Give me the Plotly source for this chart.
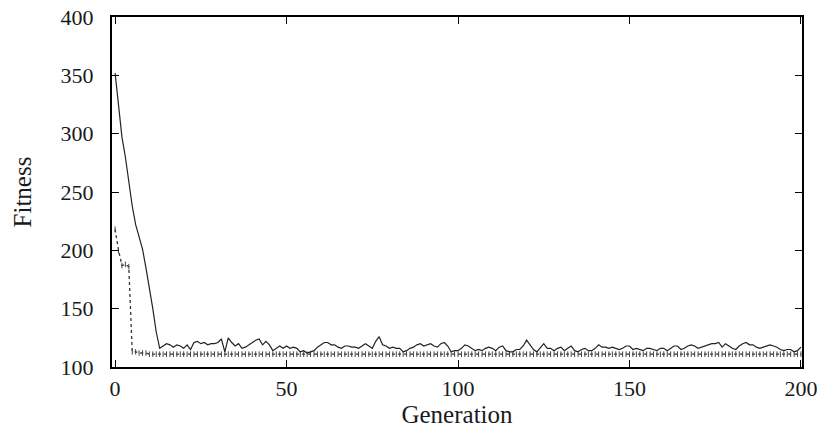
import plotly.graph_objects as go

# Average fitness per generation (solid line)
avg_fitness = [
    352, 322, 297, 280, 258, 238, 222, 212, 201, 185, 168, 150, 130, 116,
    118, 120, 119, 117, 119, 118, 116, 119, 115, 121, 122, 120, 121, 119, 120, 120, 121, 124, 113, 125, 121, 118, 120, 116,
    117, 119, 121, 123, 124, 119, 122, 119, 114, 116,
    118, 116, 118, 116, 117, 116, 113, 114, 112, 113,
    114, 117, 119, 121, 121, 119, 119, 117, 116, 118,
    118, 117, 117, 116, 118, 120, 118, 116, 122, 126,
    119, 118, 116, 117, 116, 116, 113, 114, 116, 117,
    119, 120, 118, 119, 120, 118, 117, 120, 121, 118,
    113, 114, 114, 116, 119, 118, 116, 114, 115, 114,
    116, 117, 116, 114, 117, 118, 114, 113, 113,
    115, 115, 118, 123, 119, 115, 113, 117, 120, 116,
    116, 114, 116, 117, 114, 116, 118, 114, 113, 115,
    116, 114, 114, 116, 119, 117, 117, 116, 117, 116,
    115, 116, 118, 118, 115, 116, 115, 114, 116,
    116, 115, 114, 116, 116, 114, 116, 118, 118, 115,
    116, 118, 119, 118, 116, 117, 118, 119, 120, 120,
    121, 117, 120, 118, 116, 115, 118, 120, 121, 119,
    119, 117, 116, 117, 118, 119, 118, 117, 115, 114,
    115, 115, 113, 114, 117,
]

# Best fitness per generation (dotted line)
best_fitness = [
    218, 200, 187, 188, 186, 113, 113, 112, 112, 112,
    111, 111, 111, 111, 111, 111, 111, 111, 111, 111,
    111, 111, 111, 111, 111, 111, 111, 111, 111, 111,
    111, 111, 111, 111, 111, 111, 111, 111, 111, 111,
    111, 111, 111, 111, 111, 111, 111, 111, 111, 111,
    111, 111, 111, 111, 111, 111, 111, 111, 111, 111,
    111, 111, 111, 111, 111, 111, 111, 111, 111, 111,
    111, 111, 111, 111, 111, 111, 111, 111, 111, 111,
    111, 111, 111, 111, 111, 111, 111, 111, 111, 111,
    111, 111, 111, 111, 111, 111, 111, 111, 111, 111,
    111, 111, 111, 111, 111, 111, 111, 111, 111, 111,
    111, 111, 111, 111, 111, 111, 111, 111, 111, 111,
    111, 111, 111, 111, 111, 111, 111, 111, 111, 111,
    111, 111, 111, 111, 111, 111, 111, 111, 111, 111,
    111, 111, 111, 111, 111, 111, 111, 111, 111, 111,
    111, 111, 111, 111, 111, 111, 111, 111, 111, 111,
    111, 111, 111, 111, 111, 111, 111, 111, 111, 111,
    111, 111, 111, 111, 111, 111, 111, 111, 111, 111,
    111, 111, 111, 111, 111, 111, 111, 111, 111, 111,
    111, 111, 111, 111, 111, 111, 111, 111, 111, 111,
    111,
]

generations = list(range(len(avg_fitness)))

x_ticks = [0, 50, 100, 150, 200]
y_ticks = [100, 150, 200, 250, 300, 350, 400]

FONT = "Liberation Serif, Times New Roman, serif"
INK = "#1a1a1a"

fig = go.Figure()

fig.add_trace(go.Scatter(
    x=generations, y=best_fitness, mode="lines+markers",
    line=dict(color="#333333", width=1.3, dash="dot"),
    marker=dict(symbol="line-ns", size=4, line=dict(color="#444444", width=1)),
    showlegend=False, hoverinfo="x+y",
))

fig.add_trace(go.Scatter(
    x=generations, y=avg_fitness, mode="lines",
    line=dict(color="#222222", width=1.2),
    showlegend=False, hoverinfo="x+y",
))

axis_common = dict(
    showline=True, linecolor="#000000", linewidth=2, mirror="allticks",
    ticks="inside", ticklen=7, tickwidth=1, tickcolor="#000000",
    showgrid=False, zeroline=False,
    tickfont=dict(family=FONT, size=22, color=INK),
    ticklabeloverflow="allow",
)

fig.update_xaxes(
    range=[-0.9, 200.3], tickvals=x_ticks, ticktext=[str(v) for v in x_ticks],
    title=dict(text="Generation", font=dict(family=FONT, size=25, color=INK), standoff=0),
    ticklabelstandoff=1,
    **axis_common,
)
fig.update_yaxes(
    range=[100, 400], tickvals=y_ticks, ticktext=[str(v) for v in y_ticks],
    title=dict(text="Fitness", font=dict(family=FONT, size=25, color=INK), standoff=22),
    ticklabelstandoff=12,
    **axis_common,
)

fig.update_layout(
    width=837, height=428,
    margin=dict(l=112, r=35, t=17, b=61, autoexpand=False),
    plot_bgcolor="#ffffff", paper_bgcolor="#ffffff",
    showlegend=False,
)

# Remove the browser's default 8px body margin so the figure fills the window
fig.write_html(
    "out.html",
    config={"displayModeBar": False},
    post_script="document.body.style.margin='0';",
)
